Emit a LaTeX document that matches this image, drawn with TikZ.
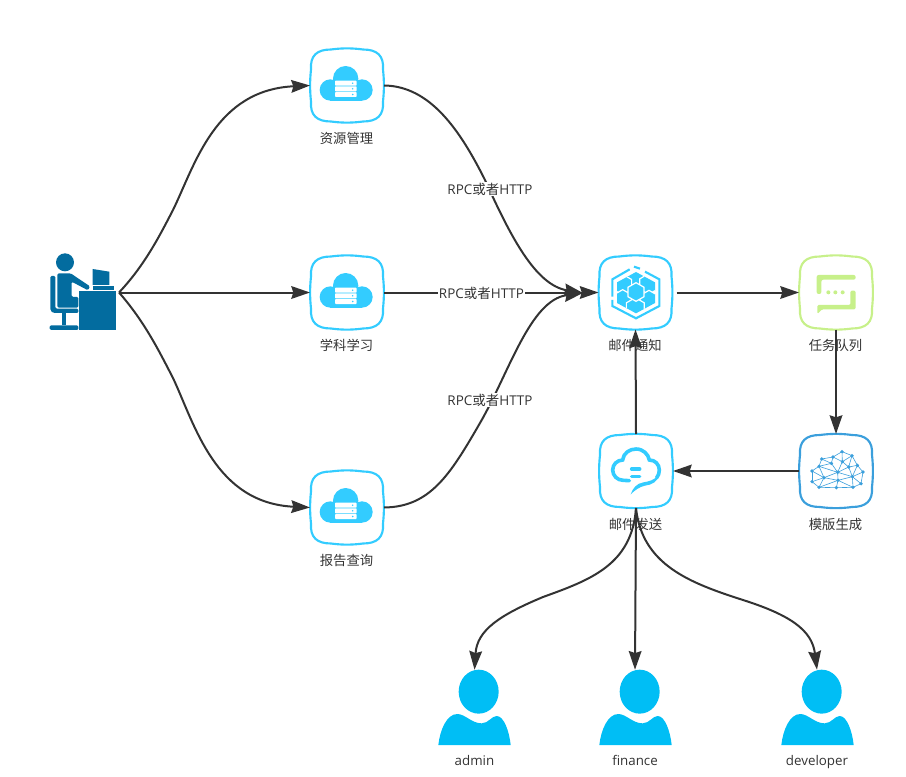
\documentclass[tikz,border=0pt]{standalone}
\usepackage{fontspec}
\setmainfont{Open Sans}
\newfontfamily\cjk{Noto Sans CJK SC}
\usetikzlibrary{arrows.meta}
\definecolor{cyanbox}{HTML}{33CCFF}
\definecolor{limebox}{HTML}{C7F08A}
\definecolor{bluebox}{HTML}{3B9FDC}
\definecolor{deskblue}{HTML}{036C9F}
\definecolor{personblue}{HTML}{00BEF5}
\definecolor{inkgrey}{HTML}{333333}
\tikzset{
  iconnode/.style={minimum size=55.5pt,inner sep=0pt,outer sep=0pt},
  boxline/.style={line width=1.6pt},
  labeltext/.style={text=inkgrey,font=\fontsize{10pt}{11pt}\selectfont\cjk,inner sep=1pt},
  edgelabel/.style={text=inkgrey,font=\fontsize{10.1pt}{11pt}\selectfont,fill=white,inner sep=0.4pt},
  personlabel/.style={text=inkgrey,font=\fontsize{10pt}{11pt}\selectfont,inner sep=1pt,anchor=base},
  link/.style={draw=inkgrey,line width=1.5pt,-{Stealth[length=14pt,width=9.5pt,inset=1.5pt]}},
  zoomframe/.style 2 args={shift={(#1,#2)},scale=1/3},
}
\newcommand{\iconbox}[5]{%
  \node[iconnode] (#1) at (#2,#3) {};
  \begin{scope}[shift={(#2,#3)}]
    \draw[boxline,draw=#4] (-36,-16) .. controls (-37,-30) and (-30,-36) .. (-16,-36)
      .. controls (-5,-37.5) and (5,-37.5) .. (16,-36)
      .. controls (30,-36) and (37,-30) .. (36,-16)
      .. controls (37.2,-5) and (37.2,5) .. (36,16)
      .. controls (37,30) and (30,36) .. (16,36)
      .. controls (5,37.5) and (-5,37.5) .. (-16,36)
      .. controls (-30,36) and (-37,30) .. (-36,16)
      .. controls (-37.2,5) and (-37.2,-5) .. (-36,-16) -- cycle;
  \end{scope}
  \node[labeltext] (#1lab) at (#2-0.5,#3+53) {#5};
}
\newcommand{\cloudicon}[2]{%
  \begin{scope}[shift={(#1,#2)},scale=1/3,shift={(-141,-136.5)}]
    \fill[cyanbox] (137,116) circle (38);
    \fill[cyanbox] (91,150) circle (32);
    \fill[cyanbox] (186,150) circle (32);
    \fill[cyanbox] (91,125) rectangle (186,182);
    \foreach \yy in {122,139,156}{
      \fill[white,rounded corners=0.6pt] (105,\yy) rectangle (170,\yy+15);
      \fill[cyanbox] (158,\yy+7.5) circle (2.5);
    }
  \end{scope}
}
\newcommand{\personicon}[2]{%
  \begin{scope}[shift={(#1,#2)},scale=1/3]
    \fill[personblue] (146,125) ellipse (60 and 66);
    \fill[personblue] (25,285) .. controls (30,240) and (50,192) .. (82,192)
      .. controls (105,192) and (125,220) .. (155,220)
      .. controls (175,220) and (185,198) .. (200,198)
      .. controls (222,198) and (238,245) .. (242,285) -- cycle;
  \end{scope}
}
\newcommand{\hexcell}[3]{%
  \filldraw[fill=cyanbox,draw=white,line width=0.9pt]
    (#1,#2-#3) -- (#1+0.866*#3,#2-0.5*#3) -- (#1+0.866*#3,#2+0.5*#3)
    -- (#1,#2+#3) -- (#1-0.866*#3,#2+0.5*#3) -- (#1-0.866*#3,#2-0.5*#3) -- cycle;
}
\begin{document}
\begin{tikzpicture}[x=0.75pt,y=-0.75pt]
\useasboundingbox (0,0) rectangle (906,777);

% user at desk
\node[minimum width=52.5pt,minimum height=57.75pt,inner sep=0pt,outer sep=0pt] (user) at (84,292.5) {};
\begin{scope}[zoomframe={40}{245}]
  \fill[deskblue] (75,52) circle (27);
  \fill[deskblue,rounded corners=1pt] (52,85) -- (92,85) -- (150,124) -- (144,136) -- (95,110) -- (95,156) -- (115,156) -- (115,188) -- (52,188) -- cycle;
  \fill[deskblue,rounded corners=1pt] (31,93) -- (46,93) -- (46,191) -- (115,191) -- (115,204) -- (40,204) -- (31,196) -- cycle;
  \fill[deskblue] (65,204) rectangle (79,241);
  \fill[deskblue,rounded corners=1pt] (29,241) rectangle (115,255);
  \fill[deskblue] (118,138) rectangle (229,256);
  \fill[deskblue] (158,72) -- (208,80) -- (208,120) -- (158,120) -- cycle;
  \fill[deskblue] (158,123) rectangle (221,135);
\end{scope}

% service boxes
\iconbox{res}{347}{85.5}{cyanbox}{资源管理}
\iconbox{study}{347}{292.5}{cyanbox}{学科学习}
\iconbox{report}{347}{507.5}{cyanbox}{报告查询}
\cloudicon{347}{85.5}
\cloudicon{347}{292.5}
\cloudicon{347}{507.5}

\iconbox{mail}{635.5}{292.5}{cyanbox}{邮件通知}
\iconbox{task}{836}{292.5}{limebox}{任务队列}
\iconbox{tmpl}{836}{471}{bluebox}{模版生成}
\iconbox{send}{636}{471}{cyanbox}{邮件发送}

% mail icon
\begin{scope}[zoomframe={560}{250}]
  \begin{scope}
    \clip (228,66) -- (285,97) -- (285,159) -- (228,190) -- (171,159) -- (171,97) -- cycle;
    \hexcell{226}{80}{31}
    \hexcell{188}{104}{31}
    \hexcell{266}{102}{31}
    \hexcell{188}{150}{31}
    \hexcell{267}{152}{31}
    \hexcell{226}{174}{31}
  \end{scope}
  \hexcell{228}{126}{28}
  \draw[cyanbox,line width=1.6pt] (209,58) -- (157,88) -- (157,140);
  \draw[cyanbox,line width=1.6pt] (222,50) -- (240,56);
  \draw[cyanbox,line width=1.6pt] (255,65) -- (298,88) -- (298,168) -- (228,205) -- (157,168) -- (157,150);
\end{scope}

% task icon
\begin{scope}[zoomframe={790}{250}]
  \fill[limebox,rounded corners=1.5pt] (80,75) -- (197,75) -- (197,89) -- (94,89) -- (94,132) -- (80,132) -- cycle;
  \fill[limebox,rounded corners=1pt] (181,122) -- (197,122) -- (197,178) -- (96,178) -- (82,192) -- (82,165) -- (181,165) -- cycle;
  \foreach \xx in {115,136,158} \fill[limebox] (\xx,127) circle (6);
\end{scope}

% template icon
\begin{scope}[zoomframe={790}{425}]
  \foreach \nm/\px/\py in {a/156/80,b/186/92,c/129/96,d/95/102,e/157/110,f/124/115,g/202/121,h/176/126,i/87/124,j/66/138,k/143/142,l/219/141,m/187/155,n/102/158,o/66/170,p/144/166,q/213/176,r/87/187,s/139/188,t/189/187}
    \coordinate (w\nm) at (\px,\py);
  \foreach \from/\to in {a/b,a/c,a/e,b/e,c/d,c/e,c/f,d/f,d/i,f/i,b/g,b/h,e/h,g/h,e/k,f/k,h/k,g/l,h/m,l/m,k/m,i/j,i/n,j/n,j/o,n/o,n/k,n/p,n/r,o/r,k/p,p/m,p/r,p/s,p/t,r/s,s/t,m/t,m/q,l/q,q/t,i/k,g/m}
    \draw[bluebox,line width=0.45pt] (w\from) -- (w\to);
  \foreach \nm in {a,b,c,d,e,f,g,h,i,j,k,l,m,n,o,p,q,r,s,t}
    \fill[bluebox] (w\nm) circle (5.5);
\end{scope}

% send icon
\begin{scope}[zoomframe={590}{425}]
  \draw[cyanbox,line width=2.7pt,line cap=round]
    (118,167) -- (100,166) .. controls (82,166) and (68,152) .. (68,135)
    .. controls (68,118) and (82,105) .. (98,105)
    .. controls (100,85) and (118,72) .. (138,72)
    .. controls (160,72) and (175,88) .. (178,105)
    .. controls (195,105) and (208,118) .. (208,135)
    .. controls (208,145) and (205,152) .. (200,158);
  \fill[cyanbox] (205,150) .. controls (195,165) and (175,170) .. (160,172)
    .. controls (140,175) and (128,190) .. (122,208)
    .. controls (135,195) and (150,185) .. (165,182)
    .. controls (185,180) and (205,170) .. (210,145) -- cycle;
  \draw[cyanbox,line width=2.7pt,line cap=round] (125,132) -- (149,132);
  \draw[cyanbox,line width=2.7pt,line cap=round] (125,154) -- (149,154);
\end{scope}

% people
\personicon{430}{650}
\personicon{591}{650}
\personicon{773}{650}
\node[personlabel] (admin) at (474.5,765) {admin};
\node[personlabel] (finance) at (635,765) {finance};
\node[personlabel] (developer) at (817,765) {developer};
\node[inner sep=0pt,minimum size=0pt] (adminhead) at (474.5,670) {};
\node[inner sep=0pt,minimum size=0pt] (financehead) at (635,670) {};
\node[inner sep=0pt,minimum size=0pt] (devhead) at (817,670) {};

% user to services
\draw[link] (user.east) .. controls (145,265) and (160,235) .. (173,210) .. controls (195,165) and (215,90) .. (res.west);
\draw[link] (user.east) -- (study.west);
\draw[link] (user.east) .. controls (145,322) and (160,353) .. (173,378) .. controls (195,425) and (215,503) .. (report.west);

% services to mail
\coordinate (mailin) at (583,293);
\draw[link] (res.east) .. controls (430,86) and (460,130) .. (485,180) .. controls (510,235) and (535,285) .. (mailin);
\draw[link] (report.east) .. controls (430,507) and (450,475) .. (480,423) .. controls (509,373) and (530,300) .. (mailin);
\draw[link] (study.east) -- (mail.west);
\node[edgelabel] (lab1) at (490,189) {RPC{\cjk 或者}HTTP};
\node[edgelabel] (lab2) at (481.5,293) {RPC{\cjk 或者}HTTP};
\node[edgelabel] (lab3) at (490,400) {RPC{\cjk 或者}HTTP};

% pipeline
\draw[link] ([xshift=3pt]mail.east) -- (task.west);
\draw[link] (task.south) -- (tmpl.north);
\draw[link] (tmpl.west) -- (send.east);
\draw[link] (send.north) -- (mail.south);

% send to users
\draw[link] (send.south) .. controls (632,565) and (590,580) .. (543,597) .. controls (500,615) and (477,630) .. (adminhead);
\draw[link] (send.south) -- (financehead);
\draw[link] (send.south) .. controls (642,565) and (690,583) .. (743,600) .. controls (790,615) and (812,630) .. (devhead);
\end{tikzpicture}
\end{document}
